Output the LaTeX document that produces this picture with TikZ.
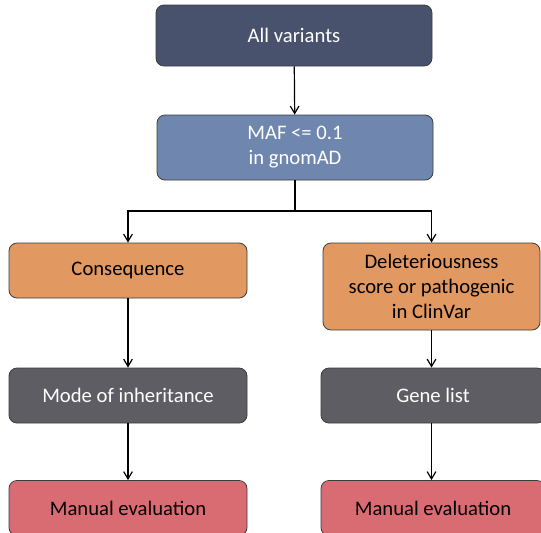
\documentclass[tikz,border=0pt]{standalone}
\usepackage{fontspec}
\setmainfont{Carlito}
\usetikzlibrary{arrows.meta}
\definecolor{navyfill}{RGB}{72,82,109}
\definecolor{steelfill}{RGB}{111,135,174}
\definecolor{orangefill}{RGB}{225,152,97}
\definecolor{slatefill}{RGB}{94,93,99}
\definecolor{rosefill}{RGB}{217,108,114}
\definecolor{edgegray}{RGB}{60,60,60}

\begin{document}
\begin{tikzpicture}[x=0.75pt,y=0.75pt,yscale=-1,xscale=1,
  procbox/.style={draw=edgegray, line width=0.6pt, rounded corners=6pt, align=center, inner sep=0pt,
    font=\fontsize{15.5}{18.8}\selectfont},
  flow/.style={line width=0.9pt, -{Straight Barb[length=5.5pt,width=6.5pt]}}]
\useasboundingbox (0,0) rectangle (541,532);
\clip (0,0) rectangle (541,532);

%Flowchart: Process
\node (all) [procbox, fill=navyfill, text=white, minimum width=207pt, minimum height=45.75pt] at (294,35.5) {All variants};
%Flowchart: Process
\node (maf) [procbox, fill=steelfill, text=white, minimum width=207pt, minimum height=48.75pt] at (295,147.5) {MAF <= 0.1\\in gnomAD};
%Flowchart: Process
\node (cons) [procbox, fill=orangefill, minimum width=178.5pt, minimum height=41.25pt] at (128,270.5) {Consequence};
%Flowchart: Process
\node (del) [procbox, fill=orangefill, minimum width=162.75pt, minimum height=65.25pt] at (431.5,286.5) {Deleteriousness\\score or pathogenic\\in ClinVar};
%Flowchart: Process
\node (mode) [procbox, fill=slatefill, text=white, minimum width=178.5pt, minimum height=41.25pt] at (128,395.5) {Mode of inheritance};
%Flowchart: Process
\node (gene) [procbox, fill=slatefill, text=white, minimum width=168pt, minimum height=41.25pt] at (433,395.5) {Gene list};
%Flowchart: Process
\node (evall) [procbox, fill=rosefill, minimum width=178.5pt, minimum height=41.25pt] at (128,508) {Manual evaluation};
%Flowchart: Process
\node (evalr) [procbox, fill=rosefill, minimum width=168pt, minimum height=41.25pt] at (433,508) {Manual evaluation};

%Straight Lines
\draw [flow] (all) -- (maf);
%Straight Lines
\coordinate (split) at (295,211);
\draw [line width=0.9pt] (maf.south) -- (split);
\draw [flow] (split) -| (cons.north);
\draw [flow] (split) -| (del.north);
%Straight Lines
\draw [flow] (cons) -- (mode);
\draw [flow] (del.south) -- (del.south |- gene.north);
%Straight Lines
\draw [flow] (mode) -- (evall);
\draw [flow] (gene.south -| del.south) -- (evalr.north -| del.south);

\end{tikzpicture}
\end{document}
